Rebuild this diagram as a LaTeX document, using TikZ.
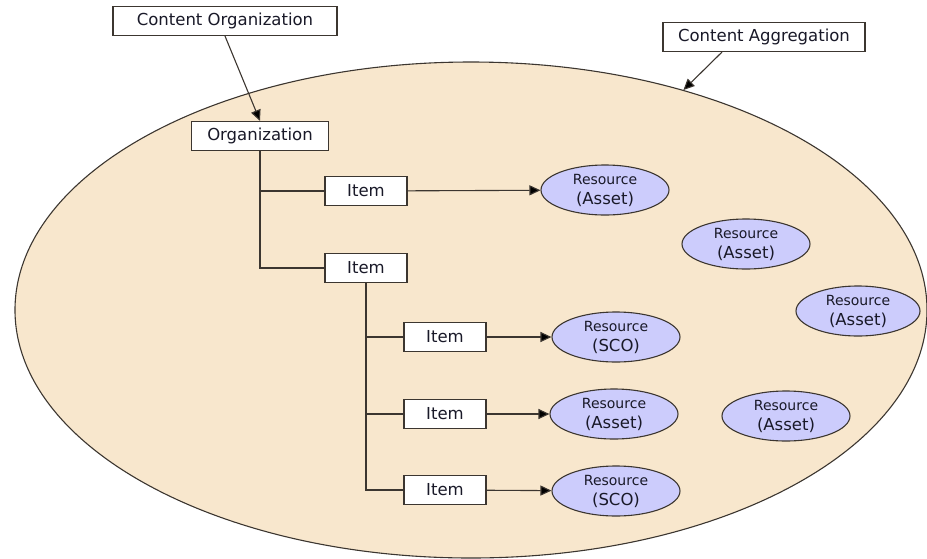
\documentclass[tikz,border=0pt]{standalone}
\usepackage{fontspec}
\setmainfont{DejaVu Sans}
\usetikzlibrary{shapes.geometric,arrows.meta}
\definecolor{beige}{RGB}{248,231,205}
\definecolor{lav}{RGB}{204,204,252}
\definecolor{edge}{RGB}{60,54,48}
\definecolor{txt}{RGB}{25,25,40}
\tikzset{
  lbl/.style={draw=edge, line width=1.1pt, fill=white, text=txt, font=\fontsize{16.5}{19}\selectfont, inner sep=0pt, minimum height=29pt},
  res/.style={ellipse, draw=edge, line width=1.1pt, fill=lav, text=txt, align=center, font=\fontsize{16.5}{20}\selectfont, inner sep=0pt, minimum width=128pt, minimum height=50pt},
  conn/.style={draw=edge, line width=1.1pt},
  arr/.style={conn, -{Triangle[length=11pt,width=10pt,fill=black]}}
}
\newcommand{\restxt}[1]{{\fontsize{14}{20}\selectfont Resource}\\(#1)}
\begin{document}
\begin{tikzpicture}[x=1pt,y=-1pt]
\useasboundingbox (0,0) rectangle (927,558);
\begin{scope}
\clip (0,0) rectangle (927,558);
\node[ellipse, draw=edge, line width=1.1pt, fill=beige, minimum width=912pt, minimum height=496pt, inner sep=0pt] (bigell) at (471,310) {};
\end{scope}
\node[lbl, minimum width=224pt] (co) at (225,21) {Content Organization};
\node[lbl, minimum width=202pt] (ca) at (764,37) {Content Aggregation};
\node[lbl, minimum width=137pt] (org) at (260,136) {Organization};
\node[lbl, minimum width=82pt] (i1) at (366,191) {Item};
\node[lbl, minimum width=82pt] (i2) at (366,268) {Item};
\node[lbl, minimum width=82pt] (i3) at (445,337) {Item};
\node[lbl, minimum width=82pt] (i4) at (445,414) {Item};
\node[lbl, minimum width=82pt] (i5) at (445,490) {Item};
\node[res] (r1) at (605,190) {\restxt{Asset}};
\node[res] (r3) at (616,337) {\restxt{SCO}};
\node[res] (r4) at (614,414) {\restxt{Asset}};
\node[res] (r5) at (616,491) {\restxt{SCO}};
\node[res] (ra) at (746,244) {\restxt{Asset}};
\node[res, minimum width=124pt] (rb) at (858,311) {\restxt{Asset}};
\node[res] (rc) at (786,416) {\restxt{Asset}};
\coordinate (aggend) at (bigell.46);
\draw[arr] (co.south) -- (org.north);
\draw[arr] ([xshift=-42pt]ca.south) -- (aggend);
\draw[conn] (org.south) |- (i1.west);
\draw[conn] (org.south) |- (i2.west);
\draw[conn] (i2.south) |- (i3.west);
\draw[conn] (i2.south) |- (i4.west);
\draw[conn] (i2.south) |- (i5.west);
\draw[arr] (i1) -- (r1);
\draw[arr] (i3) -- (r3);
\draw[arr] (i4) -- (r4);
\draw[arr] (i5) -- (r5);
\end{tikzpicture}
\end{document}
